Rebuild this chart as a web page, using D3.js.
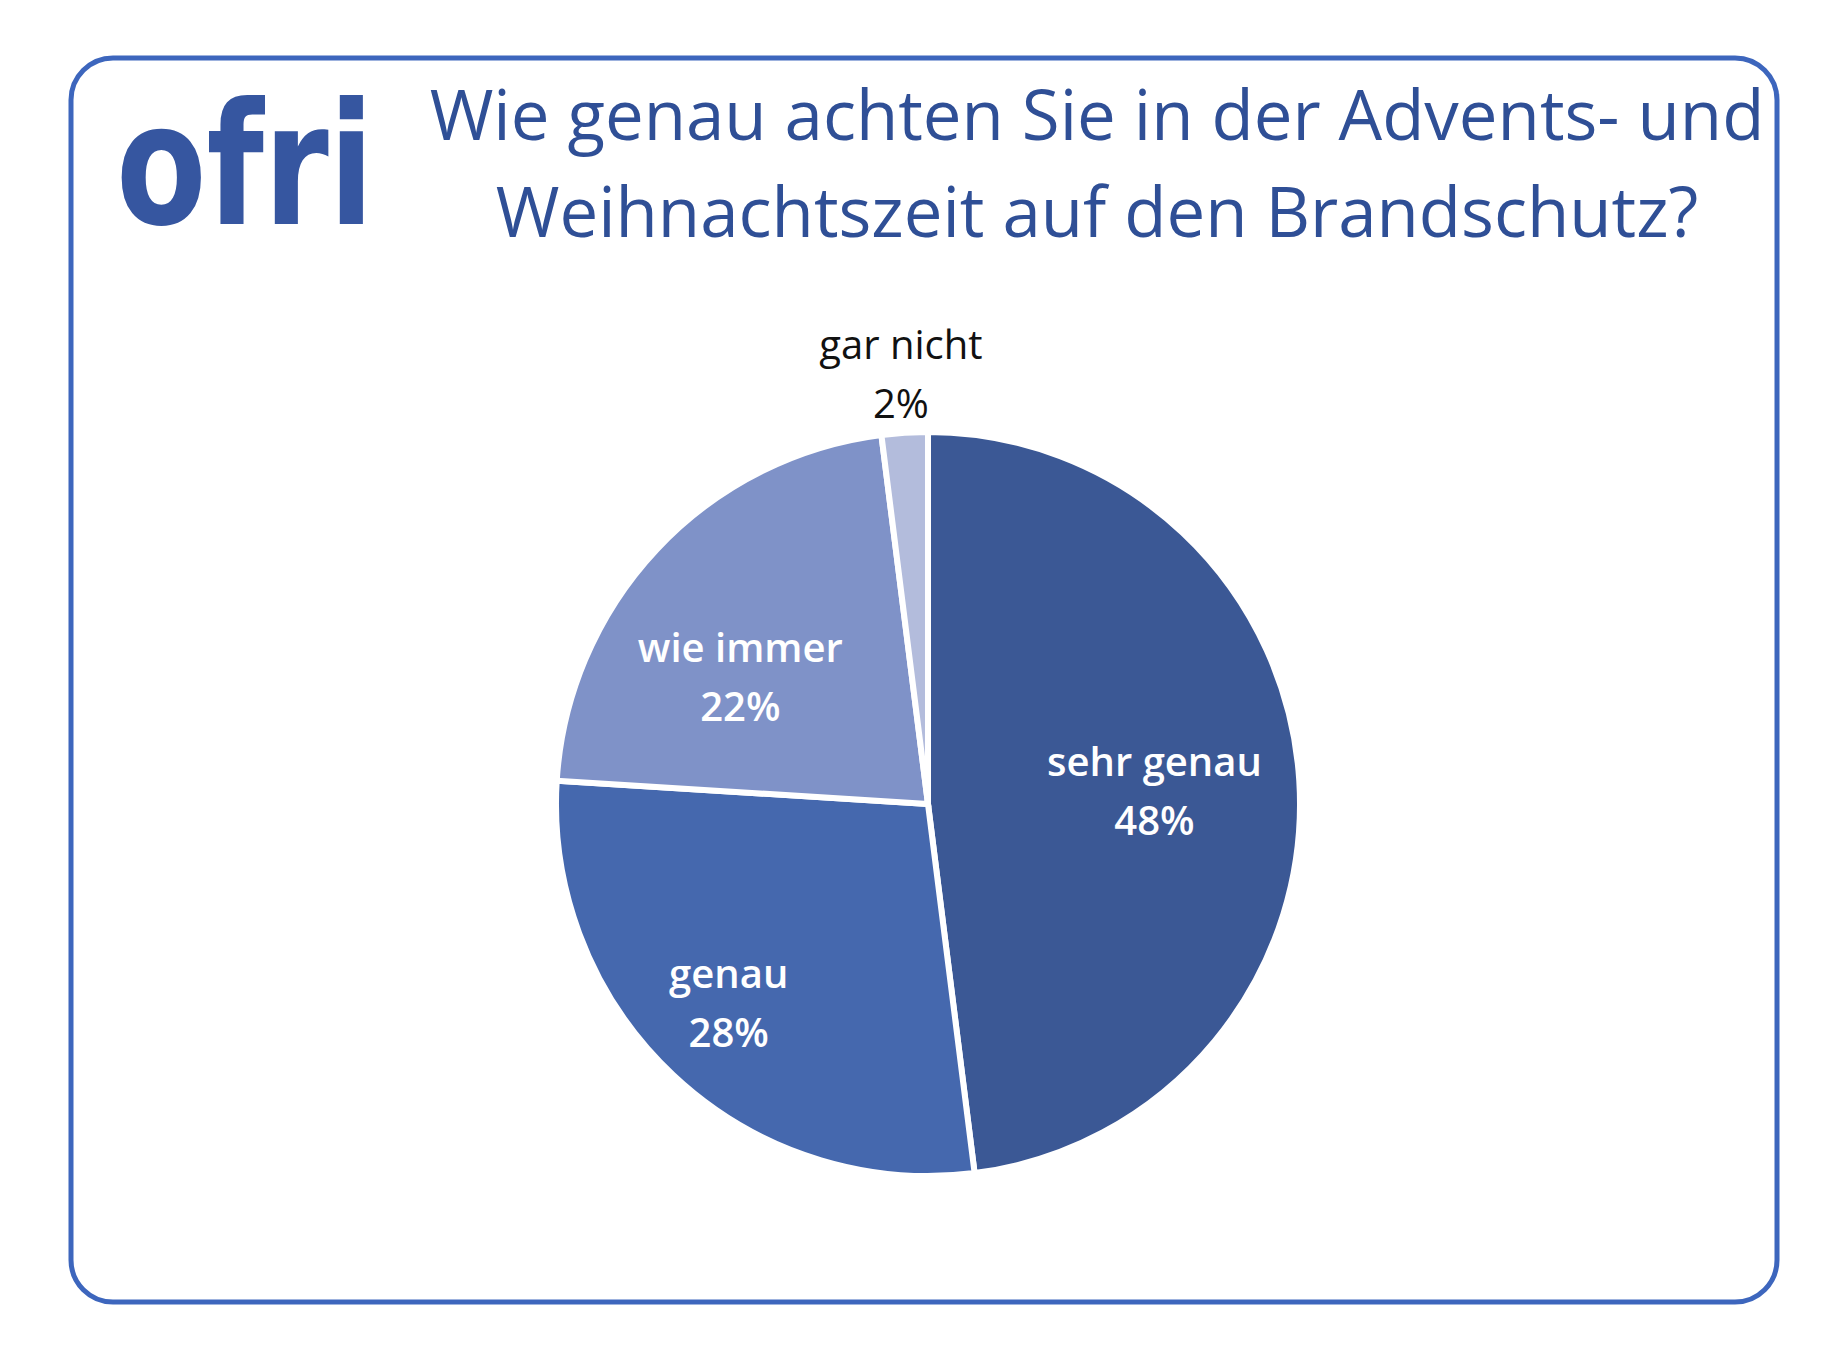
<!DOCTYPE html>
<html>
<head>
<meta charset="utf-8">
<script src="https://cdn.jsdelivr.net/npm/d3@7"></script>
<style>
  body { margin: 0; background: #fff; }
  text { font-family: "Open Sans", "Noto Sans", sans-serif; }
</style>
</head>
<body>
<svg id="chart" width="1844" height="1346"></svg>
<script>
// survey answers, clockwise from 12 o'clock
var categories = ["sehr genau", "genau", "wie immer", "gar nicht"];
var values = [48, 28, 22, 2];
var colors = ["#3b5895", "#4568ae", "#7f92c8", "#b3bcdc"];
var labelRadius = [0.61, 0.755, 0.61, 1.16];
var labelShift = [0, 2, -9, 0]; // degrees
var titleLines = ["Wie genau achten Sie in der Advents- und", "Weihnachtszeit auf den Brandschutz?"];

var svg = d3.select("#chart");

//rounded frame
svg.append("rect")
    .attr("x", 71).attr("y", 58)
    .attr("width", 1706).attr("height", 1244)
    .attr("rx", 42).attr("ry", 42)
    .attr("fill", "none")
    .attr("stroke", "#3d66bd")
    .attr("stroke-width", 5);

//logo
svg.append("text")
    .attr("x", 116).attr("y", 224)
    .attr("font-weight", "bold")
    .attr("font-size", 170)
    .attr("textLength", 258)
    .attr("lengthAdjust", "spacingAndGlyphs")
    .attr("fill", "#3656a0")
    .style("font-family", "'DejaVu Sans'")
    .text("ofri");

//title
svg.selectAll(".title")
    .data(titleLines)
    .enter().append("text")
    .attr("class", "title")
    .attr("x", 1097)
    .attr("y", function (d, i) { return 140 + i * 97; })
    .attr("text-anchor", "middle")
    .attr("font-size", 69)
    .attr("fill", "#2f4f96")
    .text(function (d) { return d; });

var cx = 928, cy = 804, r = 372;
var g = svg.append("g").attr("transform", "translate(" + cx + "," + cy + ")");

var pie = d3.pie().sort(null).value(function (d) { return d; });
var arcs = pie(values);
var arc = d3.arc().innerRadius(0).outerRadius(r);

g.selectAll("path")
    .data(arcs)
    .enter().append("path")
    .attr("d", arc)
    .attr("fill", function (d, i) { return colors[i]; })
    .attr("stroke", "#fff")
    .attr("stroke-width", 6);

//labels
var lbl = g.selectAll(".lbl")
    .data(arcs)
    .enter().append("text")
    .attr("class", "lbl")
    .attr("text-anchor", "middle")
    .attr("font-size", 40)
    .attr("font-weight", function (d, i) { return i < 3 ? 600 : "normal"; })
    .attr("fill", function (d, i) { return i < 3 ? "#fff" : "#111"; })
    .attr("transform", function (d, i) {
        var a = (d.startAngle + d.endAngle) / 2 + labelShift[i] * Math.PI / 180, k = r * labelRadius[i];
        return "translate(" + (k * Math.sin(a)) + "," + (-k * Math.cos(a)) + ")";
    });
lbl.append("tspan").attr("x", 0).attr("y", -14)
    .text(function (d, i) { return categories[i]; });
lbl.append("tspan").attr("x", 0).attr("y", 45)
    .text(function (d) { return d.data + "%"; });
</script>
</body>
</html>
